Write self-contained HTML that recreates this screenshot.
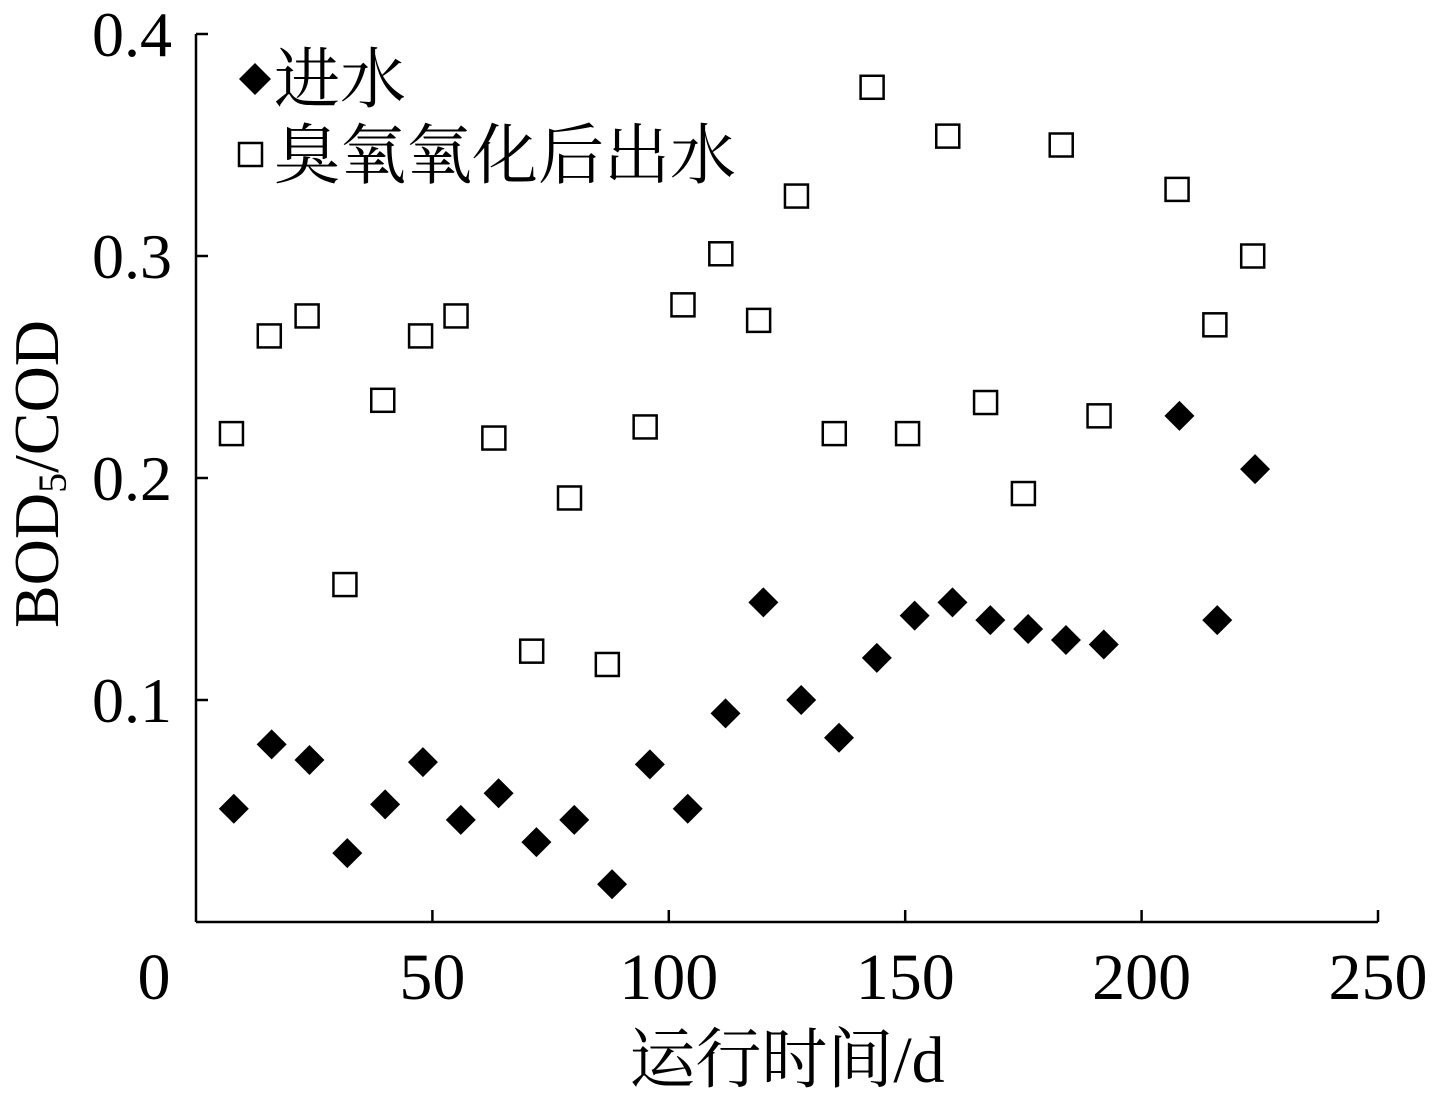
<!DOCTYPE html>
<html><head><meta charset="utf-8"><style>
body{margin:0;background:#fff;}
svg{display:block;font-family:"Liberation Serif","Noto Serif CJK SC",serif;}
</style></head><body>
<svg id="chart" width="1432" height="1104" viewBox="0 0 1432 1104" xmlns="http://www.w3.org/2000/svg">
<g id="axes"></g>
<g id="marks"></g>
<g>
<path d="M255 63 L271 79 L255 95 L239 79 Z" fill="#000"/>
<text x="274" y="102" font-size="66">进水</text>
<rect x="239" y="143" width="23" height="23" fill="none" stroke="#000" stroke-width="2.5"/>
<text x="274" y="178" font-size="66">臭氧氧化后出水</text>
</g>
<text x="787" y="1082" font-size="66" text-anchor="middle">运行时间/d</text>
<text transform="translate(58,474) rotate(-90)" font-size="64" text-anchor="middle">BOD<tspan font-size="40" dy="8">5</tspan><tspan dy="-8">/COD</tspan></text>
</svg>
<script>
const xTicks=[0,50,100,150,200,250];
const yTicks=[0.1,0.2,0.3,0.4];
const yTickLabels=["0.1","0.2","0.3","0.4"];
const influentDays=[8,16,24,32,40,48,56,64,72,80,88,96,104,112,120,128,136,144,152,160,168,176,184,192,208,216,224];
const influentValues=[0.051,0.080,0.073,0.031,0.053,0.072,0.046,0.058,0.036,0.046,0.017,0.071,0.051,0.094,0.144,0.100,0.083,0.119,0.138,0.144,0.136,0.132,0.127,0.125,0.228,0.136,0.204];
const ozoneDays=[7.5,15.5,23.5,31.5,39.5,47.5,55,63,71,79,87,95,103,111,119,127,135,143,150.5,159,167,175,183,191,207.5,215.5,223.5];
const ozoneValues=[0.220,0.264,0.273,0.152,0.235,0.264,0.273,0.218,0.122,0.191,0.116,0.223,0.278,0.301,0.271,0.327,0.220,0.376,0.220,0.354,0.234,0.193,0.350,0.228,0.330,0.269,0.300];
const NS="http://www.w3.org/2000/svg";
const X0=196,X1=1378,Y0=922,Y1=34;
function sx(v){return X0+(v/250)*(X1-X0);}
function sy(v){return Y0-(v/0.4)*(Y0-Y1);}
function mk(tag,attrs,parent){const e=document.createElementNS(NS,tag);for(const k in attrs)e.setAttribute(k,attrs[k]);parent.appendChild(e);return e;}
const axes=document.getElementById('axes');
const marks=document.getElementById('marks');
let yl=mk('line',{x1:X0,y1:Y1,x2:X0,y2:Y0,stroke:'#000','stroke-width':2.5},axes);


let xl=mk('line',{x1:X0,y1:Y0,x2:X1,y2:Y0,stroke:'#000','stroke-width':2.5},axes);


xTicks.forEach((t)=>{
  const x=sx(t);
  if(t>0){const tk=mk('line',{x1:x,y1:Y0,x2:x,y2:Y0-12,stroke:'#000','stroke-width':2.5},axes);
  
  }
  const tx=mk('text',{x:t===0?x-42:x,y:999,'font-size':66,'text-anchor':'middle'},axes);
  tx.textContent=String(t);
  
  
});
yTicks.forEach((t,i)=>{
  const y=sy(t);
  const tk=mk('line',{x1:X0,y1:y,x2:X0+12,y2:y,stroke:'#000','stroke-width':2.5},axes);
  
  
  const tx=mk('text',{x:172,y:y+22,'font-size':64,'text-anchor':'end'},axes);
  tx.textContent=yTickLabels[i];
  
  
});
influentDays.forEach((d,i)=>{
  const x=sx(d),y=sy(influentValues[i]),r=15;
  const p=mk('path',{d:`M${x} ${y-r} L${x+r} ${y} L${x} ${y+r} L${x-r} ${y} Z`,fill:'#000'},marks);
  
  
});
ozoneDays.forEach((d,i)=>{
  const x=sx(d),y=sy(ozoneValues[i]),s=23;
  const r=mk('rect',{x:x-s/2,y:y-s/2,width:s,height:s,fill:'none',stroke:'#000','stroke-width':2.5},marks);
  
  
});
</script>
</body></html>
